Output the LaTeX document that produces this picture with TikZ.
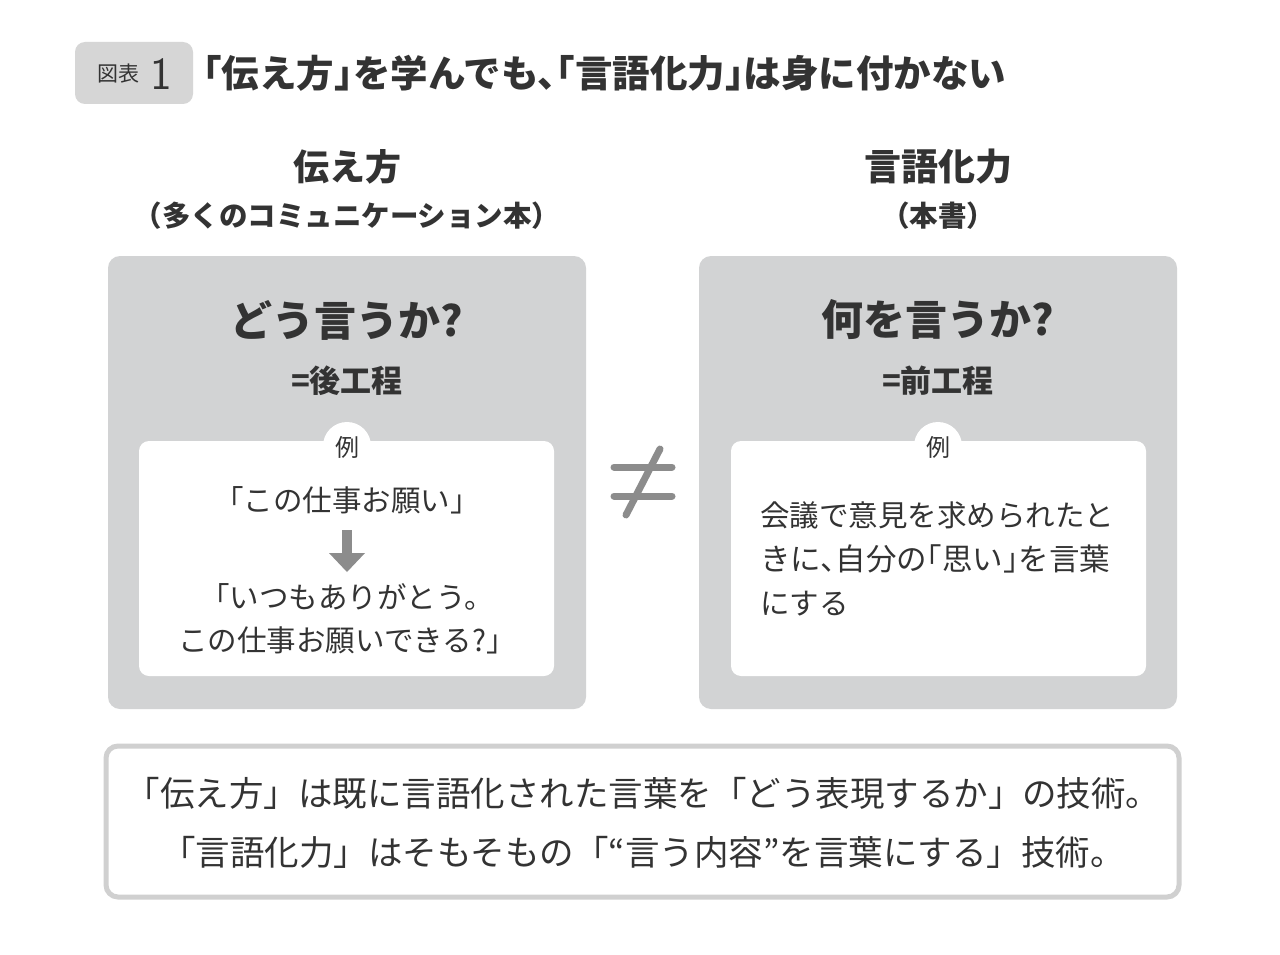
\documentclass[tikz,border=0pt]{standalone}
\usepackage{fontspec}
\setmainfont{Noto Sans CJK JP}
\newfontfamily\jph[RawFeature=+halt]{Noto Sans CJK JP}
\definecolor{txt}{HTML}{333333}
\definecolor{boxgray}{HTML}{D2D3D4}
\definecolor{badge}{HTML}{D6D6D6}
\definecolor{markgray}{HTML}{8C8C8C}
\definecolor{frame}{HTML}{D0D0D0}
\newcommand{\fs}[1]{\fontsize{#1}{#1}\selectfont}
\tikzset{
  lbl/.style={inner sep=0pt, text=txt},
  outerbox/.style={fill=boxgray, rounded corners=12pt, draw=none},
  innerbox/.style={fill=white, rounded corners=10pt, draw=none},
  neqline/.style={draw=markgray, line width=7pt, line cap=round},
  rtext/.style={lbl, anchor=west, font=\fs{29.5}},
}
\begin{document}
\begin{tikzpicture}[x=1pt,y=-1pt]
\useasboundingbox[fill=white] (0,0) rectangle (1280,955);
% title
\fill[badge, rounded corners=10pt] (75,42) rectangle (193,104);
\node[lbl] (zuhyo) at (118,74) {\fs{21}図表};
\node[lbl] (num) at (161,74) {\sffamily\fs{46}1};
\node[lbl, anchor=west] (title) at (203,73) {\jph\fs{37.5}\bfseries 「伝え方」を学んでも、「言語化力」は身に付かない};
% headings
\node[lbl] (hL) at (347,167) {\fs{36}\bfseries 伝え方};
\node[lbl] (sL) at (347,216) {\fs{28.5}\bfseries （多くのコミュニケーション本）};
\node[lbl] (hR) at (938,167) {\fs{37}\bfseries 言語化力};
\node[lbl] (sR) at (938,216) {\fs{28.5}\bfseries （本書）};
% left box
\fill[outerbox] (108,256) rectangle (586,709);
\node[lbl] (qL) at (347,320) {\fs{42}\bfseries どう言うか?};
\node[lbl] (pL) at (347,381) {\fs{31}\bfseries =後工程};
\fill[innerbox] (139,441) rectangle (554,676);
\fill[white] (347,446) circle (24);
\node[lbl] (eL) at (347,447) {\fs{24}例};
\node[lbl] (a1) at (347,500) {\fs{29.5}「この仕事お願い」};
\fill[markgray] (342,530) rectangle (352,555);
\fill[markgray] (329,553) -- (365,553) -- (347,572) -- cycle;
\node[lbl] (a2) at (347,597) {\fs{29.5}「いつもありがとう。};
\node[lbl] (a3) at (347,640) {\fs{29.5}この仕事お願いできる?」};
% neq
\draw[neqline] (614,467) -- (672,467);
\draw[neqline] (614,496) -- (672,496);
\draw[neqline] (660,449) -- (626,515);
% right box
\fill[outerbox] (699,256) rectangle (1177,709);
\node[lbl] (qR) at (938,320) {\fs{42}\bfseries 何を言うか?};
\node[lbl] (pR) at (938,381) {\fs{31}\bfseries =前工程};
\fill[innerbox] (731,441) rectangle (1146,676);
\fill[white] (938,446) circle (24);
\node[lbl] (eR) at (938,447) {\fs{24}例};
\node[rtext] (b1) at (760,515) {会議で意見を求められたと};
\node[rtext] (b2) at (760,559) {\jph\fs{30.5}きに、自分の「思い」を言葉};
\node[rtext] (b3) at (760,604) {にする};
% bottom
\draw[draw=frame, line width=5pt, fill=white, rounded corners=12pt] (106,746) rectangle (1179,897);
\node[lbl] (c1) at (643,793) {\fs{34.5}「伝え方」は既に言語化された言葉を「どう表現するか」の技術。};
\node[lbl] (c2) at (643,852) {\fs{34.5}「言語化力」はそもそもの「“言う内容”を言葉にする」技術。};
\end{tikzpicture}
\end{document}
